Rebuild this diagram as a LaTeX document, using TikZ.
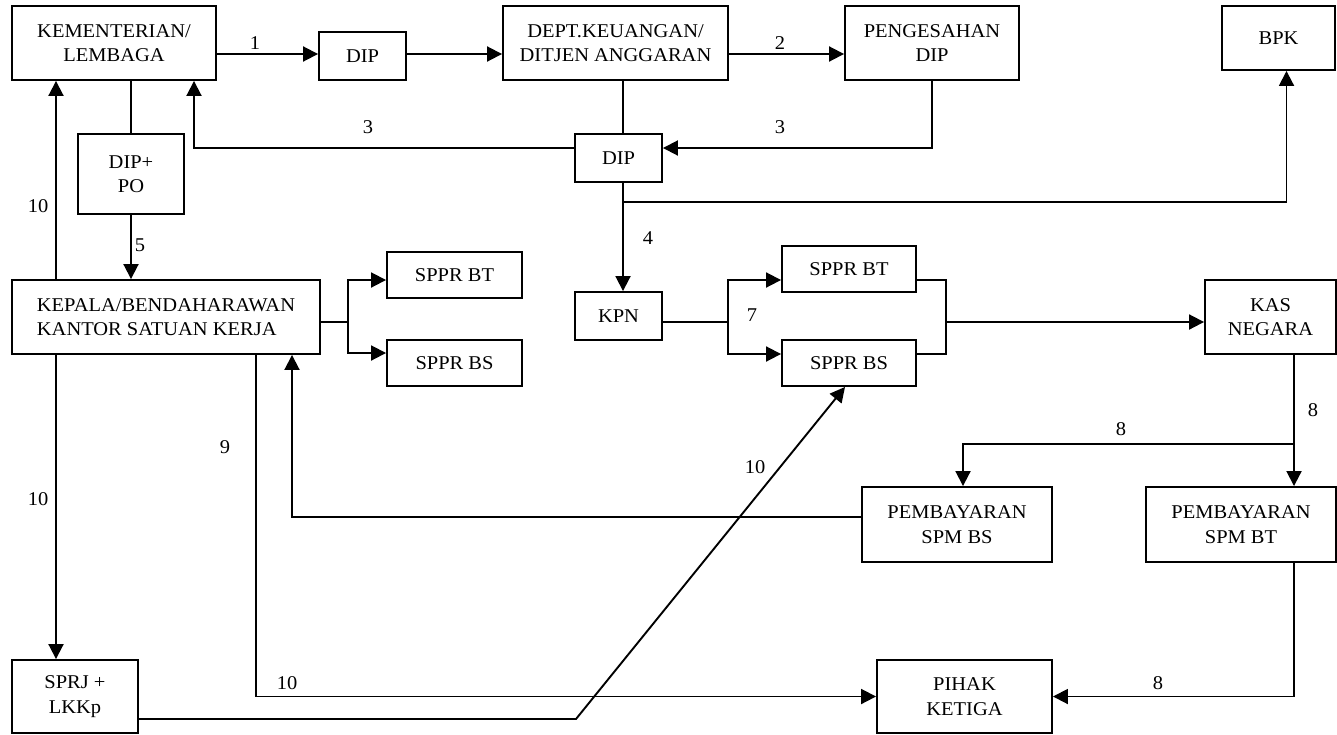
\documentclass[tikz,border=0pt]{standalone}
\usepackage{fontspec}
\setmainfont{Liberation Serif}[FakeStretch=1.05]
\usetikzlibrary{arrows.meta}
\tikzset{
  box/.style 2 args={draw, line width=1.9pt, inner sep=0pt, align=center, minimum width=#1pt, minimum height=#2pt},
  arr/.style={-{Triangle[length=15pt,width=15pt]}},
  num/.style={inner sep=0pt}
}
\begin{document}
\begin{tikzpicture}[x=1pt, y=-1pt, line width=1.9pt, font=\fontsize{19.5}{24.5}\selectfont]
      \useasboundingbox (0,0) rectangle (1337,734);

      \node[box={204}{74}] (kl) at (114,43) {KEMENTERIAN/\\LEMBAGA};
      \node[box={87}{48}] (dip1) at (362.5,56) {DIP};
      \node[box={225}{74}] (dept) at (615.5,43) {DEPT.KEUANGAN/\\DITJEN ANGGARAN};
      \node[box={174}{74}] (sah) at (932,43) {PENGESAHAN\\DIP};
      \node[box={113}{64}] (bpk) at (1278.5,38) {BPK};
      \node[box={106}{80}] (dippo) at (131,174) {DIP+\\PO};
      \node[box={87}{48}] (dip2) at (618.5,158) {DIP};
      \node[box={308}{74}, align=left] (kepala) at (166,317) {KEPALA/BENDAHARAWAN\\KANTOR SATUAN KERJA};
      \node[box={135}{46}] (btL) at (454.5,275) {SPPR BT};
      \node[box={135}{46}] (bsL) at (454.5,363) {SPPR BS};
      \node[box={87}{48}] (kpn) at (618.5,316) {KPN};
      \node[box={134}{46}] (btR) at (849,269) {SPPR BT};
      \node[box={134}{46}] (bsR) at (849,363) {SPPR BS};
      \node[box={131}{74}] (kas) at (1270.5,317) {KAS\\NEGARA};
      \node[box={190}{75}] (spmbs) at (957,524.5) {PEMBAYARAN\\SPM BS};
      \node[box={190}{75}] (spmbt) at (1241,524.5) {PEMBAYARAN\\SPM BT};
      \node[box={175}{73}] (pihak) at (964.5,696.5) {PIHAK\\KETIGA};
      \node[box={126}{73}] (sprj) at (75,696.5) {SPRJ +\\LKKp};

      \coordinate (row1) at (0,54);
      \coordinate (colA) at (56,0);
      \coordinate (colK) at (1294,0);
      \coordinate (j4) at (623,202);
      \coordinate (j8) at (1294,444);
      \coordinate (forkL) at (348,322);
      \coordinate (forkR) at (728,322);
      \coordinate (merge) at (946,322);
      \coordinate (bend) at (576,719);

      \draw[arr] (kl.east |- row1) -- (dip1.west |- row1);
      \draw[arr] (dip1.east |- row1) -- (dept.west |- row1);
      \draw[arr] (dept.east |- row1) -- (sah.west |- row1);
      \draw (dept.south -| j4) -- (dip2.north -| j4);
      \draw[arr] (sah.south) |- ([yshift=10pt]dip2.east);
      \draw[arr] ([yshift=10pt]dip2.west) -| ([xshift=80pt]kl.south);
      \draw[arr] (dip2.south -| j4) -- (kpn.north -| j4);
      \draw[arr] (j4) -| ([xshift=8pt]bpk.south);
      \draw (dippo.north) -- (dippo.north |- kl.south);
      \draw[arr] (dippo.south) -- (dippo.south |- kepala.north);
      \draw[arr] (kepala.north -| colA) -- (kl.south -| colA);
      \draw[arr] (kepala.south -| colA) -- (sprj.north -| colA);
      \draw (kepala.east |- forkL) -- (forkL);
      \draw[arr] (forkL) |- ([yshift=-5pt]btL.west);
      \draw[arr] (forkL) |- ([yshift=10pt]bsL.west);
      \draw (kpn.east |- forkR) -- (forkR);
      \draw[arr] (forkR) |- ([yshift=-11pt]btR.west);
      \draw[arr] (forkR) |- ([yshift=9pt]bsR.west);
      \draw ([yshift=-11pt]btR.east) -| (merge) |- ([yshift=9pt]bsR.east);
      \draw[arr] (merge) -- (merge -| kas.west);
      \draw[arr] (kas.south -| colK) -- (spmbt.north -| colK);
      \draw[arr] (j8) -| ([xshift=6pt]spmbs.north);
      \draw[arr] (spmbt.south -| colK) |- (pihak.east);
      \draw[arr] ([yshift=7.5pt]spmbs.west) -| ([xshift=126pt]kepala.south);
      \draw[arr] ([xshift=90pt]kepala.south) |- (pihak.west);
      \draw[arr] ([yshift=-22.5pt]sprj.east) -- (bend) -- ([xshift=-4pt]bsR.south);

      \node[num] (n1) at (255,43) {1};
      \node[num] (n2) at (780,43) {2};
      \node[num] (n3a) at (368,127) {3};
      \node[num] (n3b) at (780,127) {3};
      \node[num] (n4) at (648,238) {4};
      \node[num] (n5) at (140,245) {5};
      \node[num] (n10a) at (38,206) {10};
      \node[num] (n7) at (752,315) {7};
      \node[num] (n9) at (225,447) {9};
      \node[num] (n10b) at (38,499) {10};
      \node[num] (n10c) at (755,467) {10};
      \node[num] (n8a) at (1313,410) {8};
      \node[num] (n8b) at (1121,429) {8};
      \node[num] (n10d) at (287,683) {10};
      \node[num] (n8c) at (1158,683) {8};
\end{tikzpicture}
\end{document}
